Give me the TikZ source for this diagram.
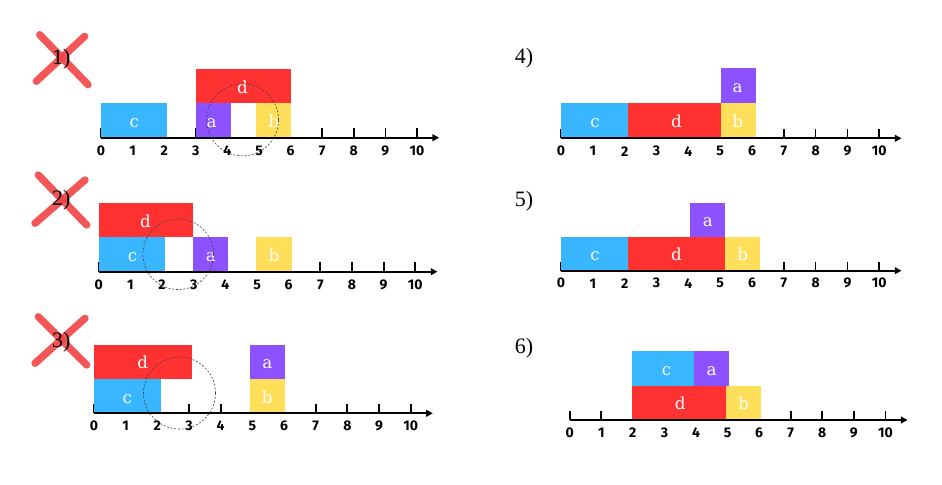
\documentclass[tikz,border=0pt]{standalone}
\usepackage{fontspec}
\setmainfont{Liberation Serif}
\newfontfamily\boxfont{DejaVu Serif}
\newfontfamily\tickfont{Fira Sans}
\usetikzlibrary{arrows.meta}
\definecolor{cblue}{HTML}{38B6FF}
\definecolor{cred}{HTML}{FF3131}
\definecolor{cpurple}{HTML}{8C52FF}
\definecolor{cyellow}{HTML}{FFDE59}
\definecolor{xred}{HTML}{F24444}
\tikzset{
  axisline/.style={line width=1.5pt, -{Triangle[length=5pt,width=5pt]}},
  tickmark/.style={line width=1.3pt},
  ticknum/.style={font=\tickfont\bfseries\fontsize{10.5}{10.5}\selectfont, inner sep=0pt},
  boxlbl/.style={text=white, font=\boxfont\fontsize{12.5}{12.5}\selectfont, inner sep=0pt, anchor=base},
  panellbl/.style={font=\fontsize{16.5}{16.5}\selectfont, inner sep=0pt},
  cross/.style={draw=xred, line width=5.5pt, line cap=round, opacity=0.9},
  focus/.style={draw=black!75, dash pattern=on 1.5pt off 1.3pt, line width=0.45pt}
}
\newcommand\ticksof[1]{%
  \foreach \i in {0,...,10}{%
    \draw[tickmark] (\i,0) -- (\i,0.27);
    \node[ticknum] (#1n\i) at (\i,-0.37) {\i};
  }}
\newcommand\axisof[1]{%
  \coordinate (#1o) at (0,0);
  \coordinate (#1e) at (10.7,0);
  \draw[axisline] (#1o) -- (#1e);}
% name, colour, x1, x2, row, label x, text
\newcommand\blk[7]{%
  \fill[#2] (#3,#5) rectangle (#4,#5+1);
  \node[boxlbl] (#1) at (#6,#5+0.3) {#7};}
\begin{document}
\begin{tikzpicture}[x=0.75pt,y=-0.75pt]
\useasboundingbox (0,0) rectangle (942,485);
\fill[white] (0,0) rectangle (942,485);

% crosses
\draw[cross] (39.7,34.7) -- (88,84.7);
\draw[cross] (84.7,36.3) -- (36.3,81.3);
\draw[cross] (38.3,175) -- (86.7,225);
\draw[cross] (85,180) -- (35,223.3);
\draw[cross] (38.3,316.7) -- (86.7,365);
\draw[cross] (85,318.3) -- (35,363.3);

% panel labels
\node[panellbl] (l1) at (61.3,59.7) {1)};
\node[panellbl] (l2) at (61.3,200.5) {2)};
\node[panellbl] (l3) at (61.3,342.7) {3)};
\node[panellbl] (l4) at (524,58.3) {4)};
\node[panellbl] (l5) at (524,201.7) {5)};
\node[panellbl] (l6) at (524,348.3) {6)};

% panel 1
\begin{scope}[shift={(101,137.7)}, x=23.7pt, y=25.725pt]
  \ticksof{p1}
  \blk{p1c}{cblue}{0}{2.1}{0}{1.05}{c}
  \blk{p1a}{cpurple}{3}{4.1}{0}{3.5}{a}
  \blk{p1b}{cyellow}{4.9}{6}{0}{5.47}{b}
  \blk{p1d}{cred}{3}{6}{1}{4.48}{d}
  \axisof{p1}
  \draw[focus] (4.48,0.52) circle[radius=27pt];
\end{scope}

% panel 2
\begin{scope}[shift={(98.7,271.7)}, x=23.745pt, y=25.725pt]
  \ticksof{p2}
  \blk{p2c}{cblue}{0}{2.1}{0}{1.07}{c}
  \blk{p2d}{cred}{0}{2.97}{1}{1.48}{d}
  \blk{p2a}{cpurple}{2.97}{4.09}{0}{3.54}{a}
  \blk{p2b}{cyellow}{4.97}{6.09}{0}{5.54}{b}
  \axisof{p2}
  \draw[focus] (2.51,0.51) circle[radius=26.5pt];
\end{scope}

% panel 3
\begin{scope}[shift={(94,413.3)}, x=23.75pt, y=25.725pt]
  \ticksof{p3}
  \blk{p3c}{cblue}{0}{2.12}{0}{1.05}{c}
  \blk{p3d}{cred}{0}{3.08}{1}{1.54}{d}
  \blk{p3b}{cyellow}{4.93}{6.03}{0}{5.47}{b}
  \blk{p3a}{cpurple}{4.93}{6.03}{1}{5.47}{a}
  \axisof{p3}
  \draw[focus] (2.7,0.59) circle[radius=27pt];
\end{scope}

% panel 4
\begin{scope}[shift={(561,138.3)}, x=23.87pt, y=26.25pt]
  \ticksof{p4}
  \blk{p4c}{cblue}{0}{2.1}{0}{1.07}{c}
  \blk{p4d}{cred}{2.1}{5.02}{0}{3.63}{d}
  \blk{p4b}{cyellow}{5.02}{6.12}{0}{5.55}{b}
  \blk{p4a}{cpurple}{5.02}{6.12}{1}{5.55}{a}
  \axisof{p4}
\end{scope}

% panel 5
\begin{scope}[shift={(561,270.7)}, x=23.87pt, y=25.5pt]
  \ticksof{p5}
  \blk{p5c}{cblue}{0}{2.1}{0}{1.07}{c}
  \blk{p5d}{cred}{2.1}{5.16}{0}{3.63}{d}
  \blk{p5b}{cyellow}{5.16}{6.26}{0}{5.71}{b}
  \blk{p5a}{cpurple}{4.06}{5.16}{1}{4.61}{a}
  \axisof{p5}
\end{scope}

% panel 6
\begin{scope}[shift={(569.7,420)}, x=23.68pt, y=25.725pt]
  \ticksof{p6}
  \blk{p6d}{cred}{1.96}{4.94}{0}{3.5}{d}
  \blk{p6b}{cyellow}{4.94}{6.05}{0}{5.5}{b}
  \blk{p6c}{cblue}{1.96}{3.94}{1}{3.07}{c}
  \blk{p6a}{cpurple}{3.94}{5.04}{1}{4.49}{a}
  \axisof{p6}
\end{scope}
\end{tikzpicture}
\end{document}
